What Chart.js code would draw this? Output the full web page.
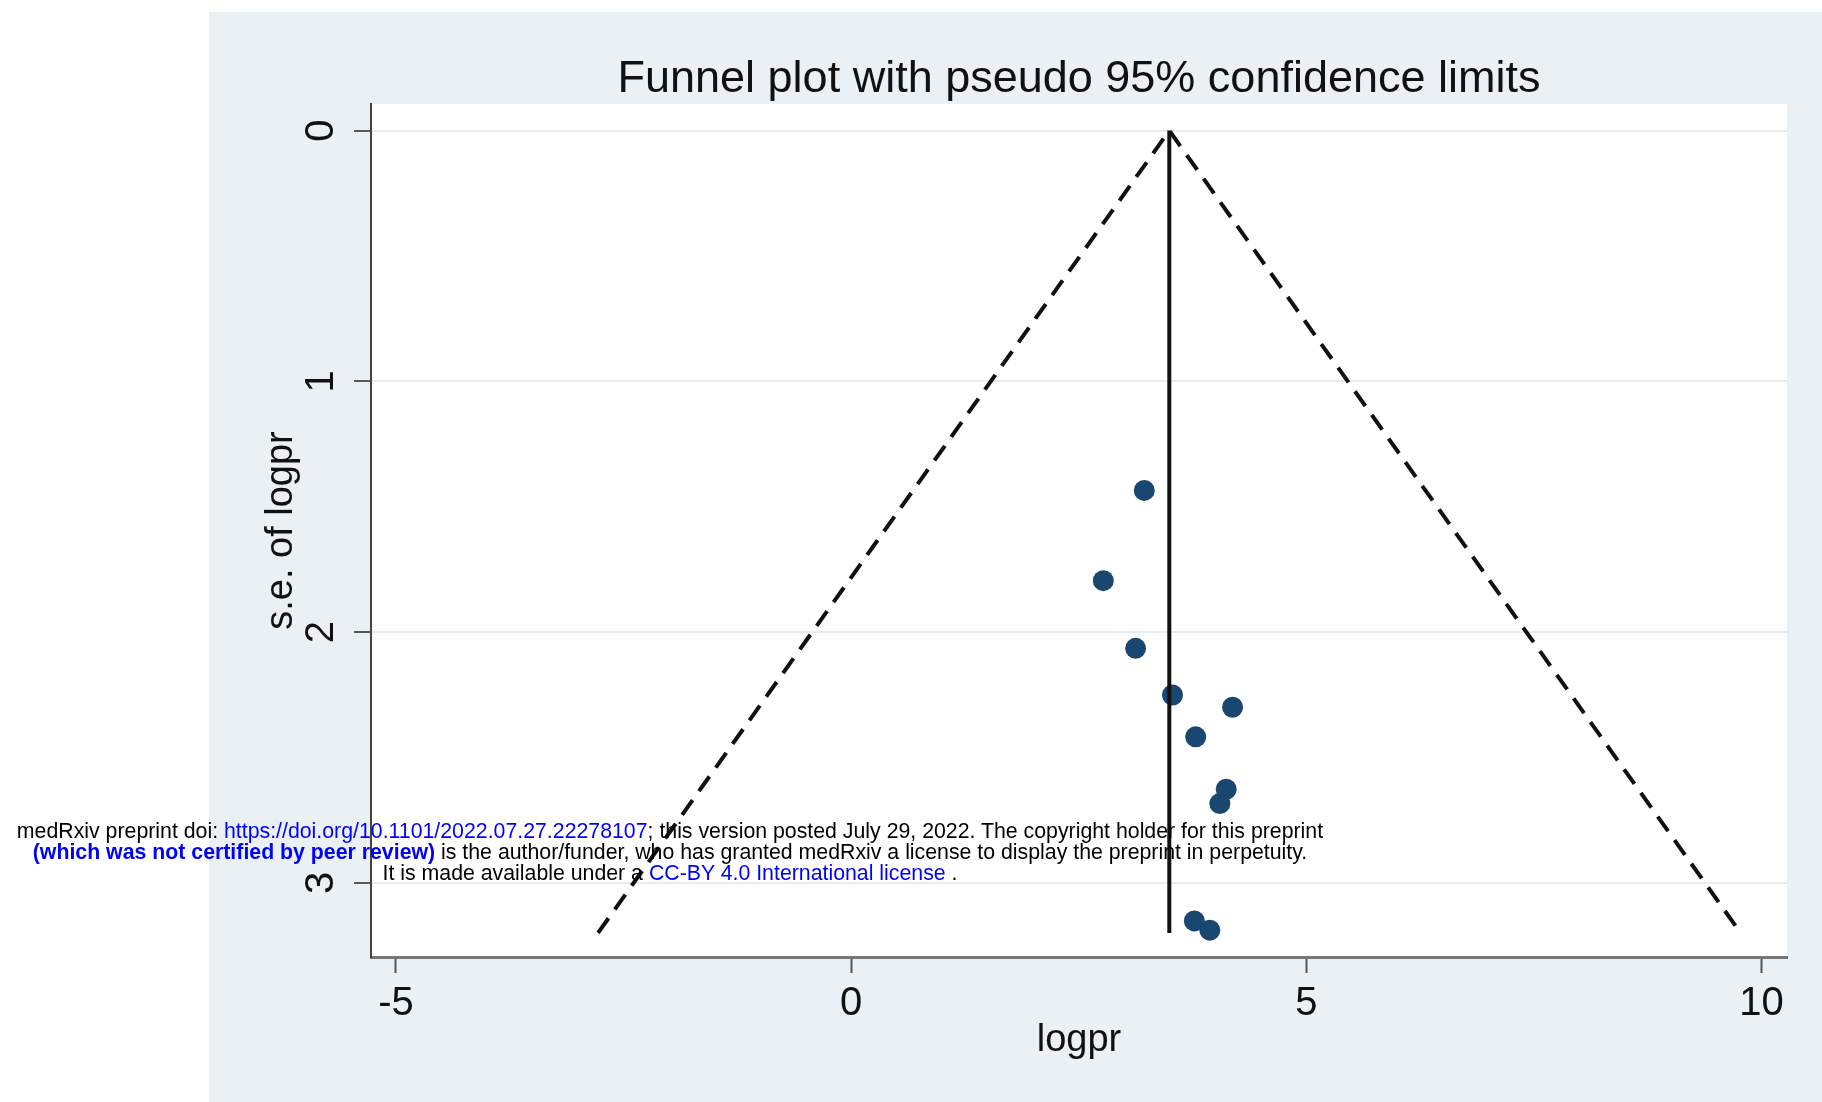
<!DOCTYPE html>
<html>
<head>
<meta charset="utf-8">
<title>Funnel plot</title>
<script src="https://cdn.jsdelivr.net/npm/chart.js@4.4.1/dist/chart.umd.min.js"></script>
<style>
  html, body { margin: 0; padding: 0; background: #fff; }
  #wrap { position: relative; width: 1822px; height: 1102px; }
  #note {
    position: absolute; left: 0; top: 821px; width: 1340px;
    text-align: center; white-space: nowrap;
    font-family: "Liberation Sans", Arial, sans-serif;
    font-size: 21.3px; line-height: 21px; color: #000;
  }
  #note .b { color: #0000ff; }
</style>
</head>
<body>
<div id="wrap">
  <canvas id="funnelChart" width="1822" height="1102"></canvas>
  <div id="note">medRxiv preprint doi: <span class="b">https://doi.org/10.1101/2022.07.27.22278107</span>; this version posted July 29, 2022. The copyright holder for this preprint<br><b class="b">(which was not certified by peer review)</b> is the author/funder, who has granted medRxiv a license to display the preprint in perpetuity.<br>It is made available under a <span class="b">CC-BY 4.0 International license</span> .</div>
</div>

<script>
// -------------------------
// DATA
// -------------------------
const studyLogpr = [3.22, 2.77, 3.125, 3.53, 4.19, 3.785, 4.12, 4.05, 3.77, 3.94];
const studySe    = [1.435, 1.795, 2.065, 2.251, 2.30, 2.418, 2.627, 2.684, 3.152, 3.189];

// pooled estimate line and pseudo 95% limits
const pooledX = [3.495, 3.495];
const pooledY = [0, 3.2];
const limitX  = [-2.78, 3.495, 9.77];
const limitY  = [3.2, 0, 3.2];

const xTicks = [-5, 0, 5, 10];
const yTicks = [0, 1, 2, 3];

const FONT = '"Liberation Sans", Arial, Helvetica, sans-serif';
Chart.defaults.font.family = FONT;

function toPoints(xs, ys) {
    return xs.map((x, i) => ({ x: x, y: ys[i] }));
}

// grey Stata-like backdrop with white plot region
const panelPlugin = {
    id: "panel",
    beforeDraw(chart) {
        const ctx = chart.ctx;
        const a = chart.chartArea;
        ctx.save();
        ctx.fillStyle = "#eaf0f3";
        ctx.fillRect(209, 12, chart.width - 209, chart.height - 12);
        ctx.fillStyle = "#ffffff";
        ctx.fillRect(a.left, a.top, a.right - a.left, a.bottom - a.top);
        ctx.restore();
    }
};

const ctx = document.getElementById("funnelChart").getContext("2d");

new Chart(ctx, {
    type: "scatter",
    data: {
        datasets: [
            {
                label: "pooled",
                data: toPoints(pooledX, pooledY),
                showLine: true,
                borderColor: "#111",
                borderWidth: 4,
                pointRadius: 0
            },
            {
                label: "limits",
                data: toPoints(limitX, limitY),
                showLine: true,
                borderColor: "#111",
                borderWidth: 4,
                borderDash: [18, 11],
                pointRadius: 0
            },
            {
                label: "studies",
                data: toPoints(studyLogpr, studySe),
                showLine: false,
                backgroundColor: "#1a476f",
                borderColor: "#1a476f",
                borderWidth: 0,
                pointRadius: 10.5
            }
        ]
    },
    options: {
        responsive: false,
        animation: false,
        layout: { padding: { left: 0, right: 35, top: 0, bottom: 0 } },
        plugins: {
            legend: { display: false },
            tooltip: { enabled: false },
            title: {
                display: true,
                fullSize: false,
                text: "Funnel plot with pseudo 95% confidence limits",
                color: "#111",
                font: { size: 45, weight: "normal", lineHeight: 1.1 },
                padding: { top: 54.5, bottom: 0 }
            }
        },
        scales: {
            x: {
                type: "linear",
                min: -5.274,
                max: 10.28,
                afterBuildTicks: s => { s.ticks = xTicks.map(v => ({ value: v })); },
                afterFit: s => { s.height = 145; },
                grid: {
                    drawOnChartArea: false,
                    drawTicks: true,
                    tickLength: 16,
                    tickColor: "#555",
                    tickWidth: 2
                },
                border: { color: "#777", width: 3 },
                ticks: {
                    color: "#111",
                    font: { size: 40 },
                    padding: 7,
                    minRotation: 0,
                    maxRotation: 0
                },
                title: {
                    display: true,
                    text: "logpr",
                    color: "#111",
                    font: { size: 38 },
                    padding: { top: 0, bottom: 39 }
                }
            },
            y: {
                type: "linear",
                reverse: true,
                min: -0.106,
                max: 3.296,
                afterBuildTicks: s => { s.ticks = yTicks.map(v => ({ value: v })); },
                afterFit: s => { s.width = 371; },
                grid: {
                    color: "#e6edf0",
                    lineWidth: 2,
                    drawTicks: true,
                    tickLength: 17,
                    tickColor: "#555",
                    tickWidth: 2
                },
                border: { color: "#444", width: 2 },
                ticks: {
                    color: "#111",
                    font: { size: 40 },
                    minRotation: 90,
                    maxRotation: 90,
                    crossAlign: "center",
                    padding: 21
                },
                title: {
                    display: true,
                    text: "s.e. of logpr",
                    color: "#111",
                    font: { size: 38 },
                    padding: { top: 259, bottom: 0 }
                }
            }
        }
    },
    plugins: [panelPlugin]
});
</script>
</body>
</html>
